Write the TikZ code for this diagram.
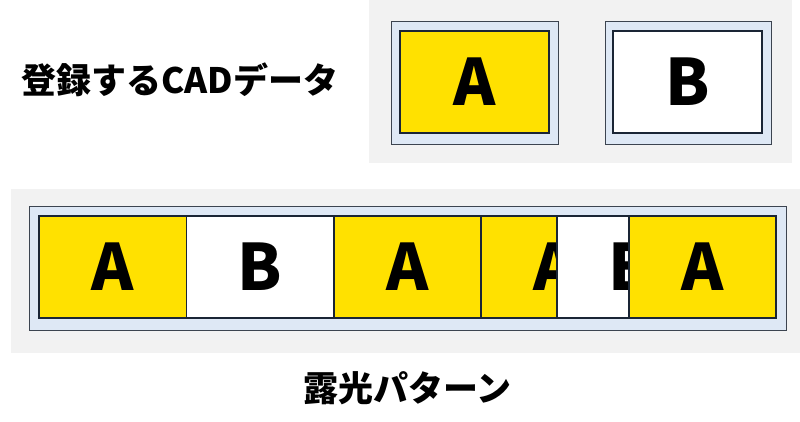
\documentclass[tikz,border=0pt]{standalone}
\usepackage{fontspec}
\newfontfamily\cjk{Noto Sans CJK JP}
\definecolor{panelgray}{HTML}{F2F2F2}
\definecolor{frameblue}{HTML}{DEE8F5}
\definecolor{cadyellow}{HTML}{FFE100}
\definecolor{edgenavy}{HTML}{1A2535}
\definecolor{framegray}{HTML}{3C4450}
\tikzset{
  panel/.style={fill=panelgray, draw=none, inner sep=0pt},
  frame/.style={fill=frameblue, draw=framegray, line width=1pt, inner sep=0pt},
  cell/.style={draw=edgenavy, line width=1.3pt, inner sep=0pt, minimum width=147pt, minimum height=102pt,
    font=\cjk\bfseries\fontsize{64}{64}\selectfont},
  acell/.style={cell, fill=cadyellow},
  bcell/.style={cell, fill=white},
  outline/.style={draw=edgenavy, line width=1.8pt, fill=none, inner sep=0pt},
  title/.style={font=\cjk\bfseries\fontsize{35}{42}\selectfont, inner sep=0pt}
}
\begin{document}
\begin{tikzpicture}[x=1pt,y=-1pt]
\useasboundingbox (0,0) rectangle (800,421);
% top
\node[panel, minimum width=423pt, minimum height=163pt] (toppanel) at (580.5,81.5) {};
\node[frame, minimum width=167pt, minimum height=123pt] (fa) at (474.5,82.5) {};
\node[acell, line width=1.8pt, minimum width=149pt] (ta) at (474.5,82) {A};
\node[frame, minimum width=166pt, minimum height=123pt] (fb) at (688,82.5) {};
\node[bcell, line width=1.8pt, minimum width=149pt] (tb) at (687.5,82) {B};
\node[title] (cadlabel) at (180,80) {登録するCADデータ};
% bottom
\node[panel, minimum width=789pt, minimum height=164pt] (botpanel) at (405.5,271) {};
\node[frame, minimum width=757pt, minimum height=124pt] (strip) at (407.5,268) {};
\node[acell] (c1) at (112.7,267) {A};
\node[bcell] (c2) at (260.2,267) {B};
\node[acell] (c3) at (407.5,267) {A};
\node[acell] (c4) at (555,267) {A};
\node[bcell] (c5) at (630.5,267) {B};
\node[acell] (c6) at (702.5,267) {A};
\node[outline, minimum width=737pt, minimum height=102pt] (stripline) at (407.5,267) {};
\node[title] (explabel) at (407.5,388) {露光パターン};
\end{tikzpicture}
\end{document}
